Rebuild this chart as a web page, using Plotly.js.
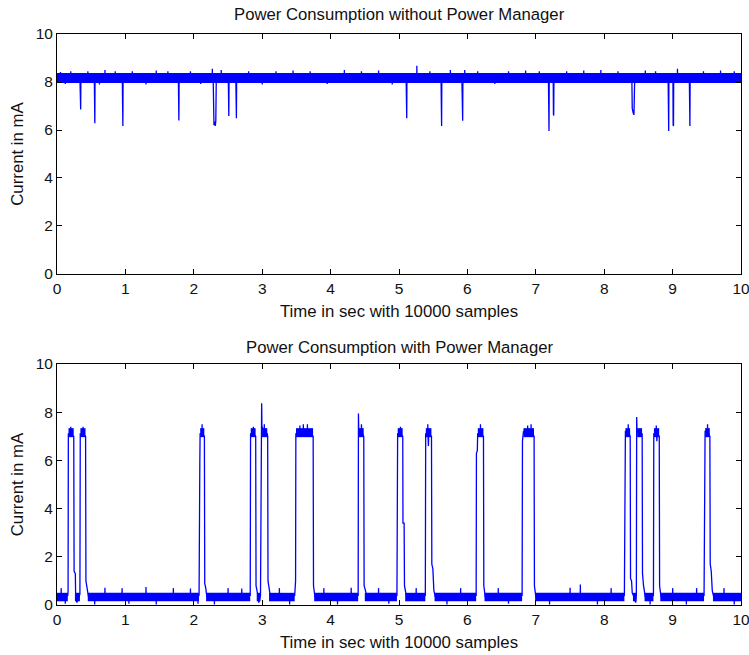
<!DOCTYPE html>
<html>
<head>
<meta charset="utf-8">
<script src="https://cdn.plot.ly/plotly-3.0.1.min.js"></script>
<style>html,body{margin:0;padding:0;background:#fff;}#chart{width:749px;height:655px;}</style>
</head>
<body>
<div id="chart"></div>
<script>
// ---------- Top panel: without power manager ----------
const topTitle = "Power Consumption without Power Manager";
const bottomTitle = "Power Consumption with Power Manager";
const xLabel = "Time in sec with 10000 samples";
const yLabel = "Current in mA";

// dense noise band (level)
const topBandLevel = 8.17;
const topBandStart = [0];
const topBandEnd = [10];

// trace through the band, dips and spikes
const topT = [0,
 0.05,0.051,0.053, 0.12,0.121,0.123, 0.2,0.201,0.203,
 0.336,0.338,0.346,0.349, 0.45,0.451,0.453,
 0.546,0.549,0.553,0.556, 0.62,0.621,0.623, 0.70,0.701,0.703, 0.85,0.851,0.853,
 0.955,0.958,0.963,0.966, 1.1,1.101,1.103, 1.3,1.301,1.303, 1.45,1.451,1.453, 1.62,1.621,1.623,
 1.775,1.778,1.782,1.785, 1.95,1.951,1.953, 2.1,2.101,2.103, 2.27,2.271,2.273,
 2.284,2.288,2.295,2.305,2.315,2.322,2.328, 2.40,2.401,2.403,
 2.505,2.508,2.512,2.515, 2.615,2.618,2.623,2.626, 2.8,2.801,2.803, 3.0,3.001,3.003,
 3.2,3.201,3.203, 3.45,3.451,3.453, 3.7,3.701,3.703, 3.95,3.951,3.953, 4.2,4.201,4.203,
 4.45,4.451,4.453, 4.7,4.701,4.703, 4.9,4.901,4.903,
 5.105,5.108,5.113,5.116, 5.26,5.261,5.263, 5.45,5.451,5.453,
 5.615,5.618,5.623,5.626, 5.75,5.751,5.753,
 5.92,5.923,5.927,5.931,5.934, 5.96,5.961,5.963, 6.15,6.151,6.153, 6.4,6.401,6.403,
 6.6,6.601,6.603, 6.85,6.851,6.853, 7.05,7.051,7.053,
 7.185,7.188,7.193,7.196, 7.255,7.258,7.262,7.265, 7.45,7.451,7.453, 7.7,7.701,7.703,
 7.95,7.951,7.953, 8.2,8.201,8.203,
 8.405,8.41,8.425,8.435,8.445, 8.6,8.601,8.603, 8.75,8.751,8.753,
 8.935,8.938,8.943,8.946, 9.005,9.008,9.013,9.016, 9.07,9.071,9.073,
 9.245,9.248,9.253,9.256, 9.45,9.451,9.453, 9.7,9.701,9.703, 9.9,9.901,9.903, 10];
const topV = [8.2,
 8.2,8.42,8.2, 8.2,7.92,8.2, 8.2,8.45,8.2,
 8.05,6.9,6.85,8.05, 8.2,8.45,8.2,
 8.05,6.3,6.28,8.05, 8.2,7.9,8.2, 8.2,8.5,8.2, 8.2,8.45,8.2,
 8.05,6.2,6.17,8.05, 8.2,8.45,8.2, 8.2,7.9,8.2, 8.2,8.48,8.2, 8.2,8.45,8.2,
 8.05,6.45,6.4,8.05, 8.2,8.45,8.2, 8.2,7.92,8.2, 8.2,8.55,8.2,
 8.0,6.3,6.2,6.35,6.17,6.4,8.0, 8.2,8.5,8.2,
 8.05,6.62,6.58,8.05, 8.05,6.55,6.49,8.05, 8.2,8.45,8.2, 8.2,7.9,8.2,
 8.2,8.45,8.2, 8.2,8.48,8.2, 8.2,8.45,8.2, 8.2,7.92,8.2, 8.2,8.5,8.2,
 8.2,8.45,8.2, 8.2,8.48,8.2, 8.2,7.9,8.2,
 8.05,6.55,6.49,8.05, 8.2,8.68,8.2, 8.2,8.45,8.2,
 8.05,6.2,6.17,8.05, 8.2,8.5,8.2,
 8.05,6.9,6.4,6.39,8.05, 8.2,8.5,8.2, 8.2,8.45,8.2, 8.2,7.92,8.2,
 8.2,8.45,8.2, 8.2,8.48,8.2, 8.2,8.45,8.2,
 8.05,6.0,5.96,8.05, 8.05,6.65,6.6,8.05, 8.2,8.45,8.2, 8.2,8.48,8.2,
 8.2,8.5,8.2, 8.2,8.45,8.2,
 8.0,6.9,6.7,6.63,8.0, 8.2,8.48,8.2, 8.2,8.45,8.2,
 8.05,6.0,5.96,8.05, 8.05,6.2,6.17,8.05, 8.2,8.55,8.2,
 8.05,6.2,6.17,8.05, 8.2,8.45,8.2, 8.2,8.48,8.2, 8.2,8.45,8.2, 8.2];

// ---------- Bottom panel: with power manager ----------
const lowLevel = 0.33;
const lowStart = [0, 0.262, 0.45, 2.18, 2.92, 3.1, 3.76, 4.50, 5.09, 5.52, 6.25, 6.99, 8.42, 8.59, 8.82, 9.59];
const lowEnd   = [0.158, 0.335, 2.077, 2.825, 2.975, 3.475, 4.403, 4.97, 5.385, 6.128, 6.8, 8.295, 8.47, 8.72, 9.46, 10];
const highLevel = 7.15;
const highStart = [0.168, 0.342, 2.093, 2.832, 2.998, 3.494, 4.413, 4.981, 5.392, 6.152, 6.82, 8.31, 8.482, 8.727, 9.476];
const highEnd   = [0.244, 0.417, 2.154, 2.904, 3.074, 3.744, 4.484, 5.054, 5.474, 6.234, 6.974, 8.379, 8.554, 8.804, 9.544];

const botT = [0,
 0.06,0.061,0.063, 0.12,0.121,0.123,
 0.158,0.162,0.166, 0.2,0.201,0.203,
 0.245,0.25,0.268,0.272,0.29,0.31,0.335,0.34, 0.38,0.381,0.383,
 0.418,0.423,0.44,0.46, 0.55,0.551,0.553, 0.7,0.701,0.703, 0.95,0.951,0.953,
 1.05,1.051,1.053, 1.3,1.301,1.303, 1.45,1.451,1.453, 1.7,1.701,1.703, 1.95,1.951,1.953,
 2.06,2.061,2.063, 2.077,2.08,2.088,2.092, 2.12,2.121,2.123, 2.155,2.16,2.175,2.19,
 2.3,2.301,2.303, 2.5,2.501,2.503, 2.7,2.701,2.703, 2.825,2.83, 2.87,2.871,2.873,
 2.905,2.91,2.93,2.95,2.975,2.98,2.988,2.992,2.996,3.03,3.031,3.033,3.075,3.08,3.085,3.1,3.12,
 3.25,3.251,3.253, 3.4,3.401,3.403, 3.475,3.478,3.488,3.492,
 3.55,3.551,3.553,3.6,3.601,3.603,3.66,3.661,3.663,3.745,3.75,3.77,
 3.9,3.901,3.903, 4.1,4.101,4.103, 4.3,4.301,4.303,
 4.403,4.407,4.412,4.45,4.451,4.453,4.485,4.49,4.51,4.53,
 4.7,4.701,4.703, 4.85,4.851,4.853,
 4.97,4.975,4.98,5.02,5.021,5.023,5.055,5.058,5.075,5.08,5.1,5.12,
 5.25,5.251,5.253,
 5.385,5.39,5.42,5.421,5.423,5.43,5.435,5.475,5.48,5.495,5.51,5.53,
 5.7,5.701,5.703, 5.9,5.901,5.903,
 6.128,6.132,6.145,6.15,6.19,6.191,6.193,6.235,6.24,6.26,
 6.45,6.451,6.453, 6.6,6.601,6.603,
 6.8,6.805,6.82,6.88,6.881,6.883,6.93,6.931,6.933,6.975,6.98,7.0,
 7.2,7.201,7.203, 7.5,7.501,7.503, 7.65,7.651,7.653, 7.9,7.901,7.903, 8.1,8.101,8.103,
 8.295,8.3,8.31,8.35,8.351,8.353,8.38,8.385,8.4,8.41,8.44,8.46,8.47,8.475,8.48,8.555,8.56,8.575,8.6,
 8.67,8.671,8.673,
 8.72,8.725,8.76,8.761,8.763,8.77,8.775,8.805,8.81,8.83,
 9.0,9.001,9.003, 9.2,9.201,9.203, 9.35,9.351,9.353,
 9.46,9.465,9.475,9.51,9.511,9.513,9.545,9.55,9.565,9.58,9.6,
 9.75,9.751,9.753, 9.9,9.901,9.903, 10];
const botV = [0.35,
 0.35,0.7,0.35, 0.35,0.05,0.35,
 0.4,0.6,7.1, 7.1,7.4,7.1,
 7.0,1.4,1.3,0.5,0.1,0.3,0.45,7.1, 7.1,7.4,7.1,
 7.0,1.0,0.7,0.35, 0.35,0.02,0.35, 0.35,0.72,0.35, 0.35,0.7,0.35,
 0.35,0.05,0.35, 0.35,0.75,0.35, 0.35,0.02,0.35, 0.35,0.7,0.35, 0.35,0.68,0.35,
 0.35,0.05,0.35, 0.4,5.9,5.9,7.1, 7.1,7.5,7.1, 7.0,0.9,0.7,0.35,
 0.35,0.02,0.35, 0.35,0.7,0.35, 0.35,0.68,0.35, 0.4,7.1, 7.1,7.4,7.1,
 7.0,0.8,0.5,0.1,0.4,4.9,4.9,8.37,7.4,7.2,7.5,7.2,7.1,7.0,1.0,0.6,0.35,
 0.35,0.7,0.35, 0.35,0.02,0.35, 0.4,1.0,1.0,7.1,
 7.1,7.45,7.1,7.1,7.5,7.1,7.1,7.5,7.1,7.0,0.8,0.35,
 0.35,0.7,0.35, 0.35,0.02,0.35, 0.35,0.72,0.35,
 0.4,7.95,7.2,7.2,7.5,7.2,7.0,0.8,0.6,0.35,
 0.35,0.7,0.35, 0.35,0.05,0.35,
 0.4,6.9,7.1,7.1,7.4,7.1,7.0,3.4,3.4,0.8,0.5,0.35,
 0.35,0.7,0.35,
 0.4,7.1,7.1,7.5,7.1,6.6,7.1,7.0,1.7,1.5,0.6,0.35,
 0.35,0.02,0.35, 0.35,0.7,0.35,
 0.4,6.3,6.4,7.1,7.1,7.5,7.1,7.0,0.8,0.35,
 0.35,0.7,0.35, 0.35,0.05,0.35,
 0.4,6.8,7.2,7.2,7.45,7.2,7.2,7.5,7.2,7.0,0.8,0.35,
 0.35,0.02,0.35, 0.35,0.72,0.35, 0.35,0.85,0.35, 0.35,0.02,0.35, 0.35,0.7,0.35,
 0.4,6.9,7.2,7.2,7.5,7.2,7.0,1.1,1.0,0.5,0.3,0.1,0.4,7.8,7.2,7.1,1.3,0.8,0.35,
 0.35,0.02,0.35,
 0.4,7.1,7.1,7.45,7.1,6.8,7.1,7.0,0.8,0.35,
 0.35,0.7,0.35, 0.35,0.02,0.35, 0.35,0.7,0.35,
 0.4,6.9,7.2,7.2,7.5,7.2,7.0,1.7,1.4,0.6,0.35,
 0.35,0.7,0.35, 0.35,0.02,0.35, 0.35];

const xTicks = [0,1,2,3,4,5,6,7,8,9,10];
const yTicks = [0,2,4,6,8,10];

// ---------- build traces ----------
function bandXY(starts, ends, level) {
  const x = [], y = [];
  for (let i = 0; i < starts.length; i++) {
    x.push(starts[i], ends[i], null);
    y.push(level, level, null);
  }
  return {x, y};
}
const blue = '#0000ff';
const tb = bandXY(topBandStart, topBandEnd, topBandLevel);
const bl = bandXY(lowStart, lowEnd, lowLevel);
const bh = bandXY(highStart, highEnd, highLevel);

const traces = [
  {x: tb.x, y: tb.y, xaxis: 'x', yaxis: 'y', mode: 'lines', line: {color: blue, width: 10}, hoverinfo: 'skip'},
  {x: topT, y: topV, xaxis: 'x', yaxis: 'y', mode: 'lines', line: {color: blue, width: 1.3}},
  {x: bl.x, y: bl.y, xaxis: 'x2', yaxis: 'y2', mode: 'lines', line: {color: blue, width: 8.5}, hoverinfo: 'skip'},
  {x: bh.x, y: bh.y, xaxis: 'x2', yaxis: 'y2', mode: 'lines', line: {color: blue, width: 9}, hoverinfo: 'skip'},
  {x: botT, y: botV, xaxis: 'x2', yaxis: 'y2', mode: 'lines', line: {color: blue, width: 1.3}}
];

const fontFam = '"Liberation Sans", Arial, sans-serif';
const txt = '#111';
function xAx(anchor) {
  return {
    anchor: anchor, range: [0, 10], tickvals: xTicks, ticktext: xTicks.map(String),
    ticks: 'inside', ticklen: 5, tickcolor: '#000', showline: true, linecolor: '#000', linewidth: 1,
    mirror: 'ticks', showgrid: false, zeroline: false, automargin: false,
    ticklabeloverflow: 'allow',
    tickfont: {family: fontFam, size: 15.5, color: txt},
    title: {text: xLabel, font: {family: fontFam, size: 16.8, color: txt}, standoff: 9}
  };
}
function yAx(anchor, domain) {
  return {
    anchor: anchor, domain: domain, range: [0, 10], tickvals: yTicks, ticktext: yTicks.map(String),
    ticks: 'inside', ticklen: 5, tickcolor: '#000', showline: true, linecolor: '#000', linewidth: 1,
    mirror: 'ticks', showgrid: false, zeroline: false, automargin: false,
    ticklabeloverflow: 'allow',
    tickfont: {family: fontFam, size: 15.5, color: txt},
    title: {text: yLabel, font: {family: fontFam, size: 16.8, color: txt}, standoff: 7}
  };
}

const layout = {
  width: 749, height: 655,
  margin: {l: 57, r: 8, t: 34, b: 50, pad: 0},
  paper_bgcolor: '#fff', plot_bgcolor: '#fff',
  showlegend: false,
  xaxis: xAx('y'),
  yaxis: yAx('x', [0.5797, 1]),
  xaxis2: xAx('y2'),
  yaxis2: yAx('x2', [0, 0.4221]),
  annotations: [
    {text: topTitle, xref: 'paper', yref: 'paper', x: 0.5, y: 1.0335, xanchor: 'center', yanchor: 'middle',
     showarrow: false, font: {family: fontFam, size: 16.7, color: txt}},
    {text: bottomTitle, xref: 'paper', yref: 'paper', x: 0.5, y: 0.4515, xanchor: 'center', yanchor: 'middle',
     showarrow: false, font: {family: fontFam, size: 16.7, color: txt}}
  ]
};

Plotly.newPlot('chart', traces, layout, {staticPlot: true, displayModeBar: false});
</script>
</body>
</html>
